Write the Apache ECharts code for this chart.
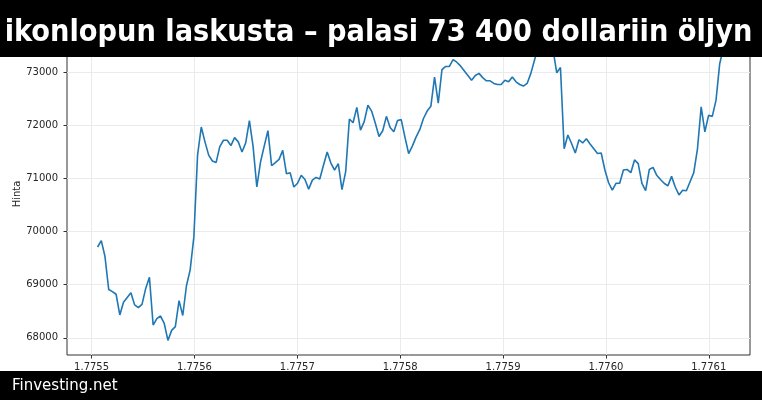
<!DOCTYPE html>
<html><head><meta charset="utf-8">
<script src="https://cdn.jsdelivr.net/npm/echarts@6/dist/echarts.min.js"></script>
<style>html,body{margin:0;padding:0;background:#fff}#c{width:762px;height:400px}</style>
</head><body><div id="c"></div>
<script>
const titleText = 'ikonlopun laskusta – palasi 73 400 dollariin öljyn';
const sourceText = 'Finvesting.net';
const yAxisName = 'Hinta';
const startTime = 1775505830; // unix seconds of first point
const stepSeconds = 3600;     // hourly
const prices = [
  69710, 69830, 69530, 68910, 68870, 68820, 68430, 68670, 68760, 68850,
  68620, 68570, 68630, 68930, 69140, 68240, 68360, 68410, 68270, 67950,
  68140, 68210, 68700, 68420, 68980, 69280, 69900,
  71440, 71970, 71690, 71440, 71330, 71300, 71600, 71720, 71720, 71620,
  71770, 71690, 71500, 71670, 72090, 71600, 70840, 71310, 71610, 71900,
  71240, 71300, 71360, 71530, 71090, 71110, 70840, 70910, 71060, 70980,
  70800, 70970, 71020,
  70990, 71250, 71500, 71290, 71160, 71280, 70790, 71130, 72120, 72050,
  72340, 71910, 72070, 72380, 72270, 72040, 71790, 71900, 72170, 71960,
  71880, 72090, 72110, 71780, 71470,
  71610, 71780, 71920, 72130, 72270, 72360, 72910, 72420, 73050, 73110,
  73110, 73240, 73190, 73120, 73030, 72940, 72850, 72940, 72980, 72900,
  72840, 72840, 72790, 72770, 72770, 72850, 72820, 72910, 72820, 72770,
  72740, 72790, 72980, 73230,
  73480, 73650, 73700, 73600, 73420, 72990, 73090,
  71560, 71820, 71660, 71480, 71730, 71670, 71750, 71650, 71560, 71470,
  71480, 71160, 70920, 70780, 70910, 70910, 71160, 71170, 71110, 71350,
  71280, 70910, 70770, 71170, 71210, 71060, 70980, 70910, 70860, 71040,
  70840, 70690, 70780, 70770, 70940, 71110, 71560, 72350, 71880, 72190,
  72170, 72470, 73160, 73450
];
const xTicks = [1775500000, 1775600000, 1775700000, 1775800000, 1775900000, 1776000000, 1776100000];
const yTicks = [68000, 69000, 70000, 71000, 72000, 73000];
const xMin = 1775476100, xMax = 1776140100;
const yMin = 67676, yMax = 73740;

const seriesData = prices.map((p, i) => [startTime + i * stepSeconds, p]);

const chart = echarts.init(document.getElementById('c'), null, {renderer: 'canvas'});
const axisColor = '#333';
const gridColor = '#ebebeb';
const labelColor = '#262626';
chart.setOption({
  animation: false,
  backgroundColor: '#fff',
  grid: {left: 67, right: 12, top: 33, bottom: 45, containLabel: false, outerBoundsMode: 'none',
         show: true, borderColor: axisColor, borderWidth: 1, backgroundColor: 'transparent'},
  xAxis: {
    type: 'value', min: xMin, max: xMax,
    axisLine: {show: false},
    axisTick: {show: true, inside: false, length: 3.5, lineStyle: {color: axisColor}, customValues: xTicks},
    axisLabel: {show: true, customValues: xTicks, margin: 7, color: labelColor, fontSize: 10,
                fontFamily: 'DejaVu Sans', formatter: v => (v / 1e9).toFixed(4)},
    splitLine: {show: true, lineStyle: {color: gridColor, width: 1}}
  },
  yAxis: {
    type: 'value', min: yMin, max: yMax,
    name: yAxisName, nameLocation: 'middle', nameGap: 45, nameRotate: 90, nameMoveOverlap: false,
    nameTextStyle: {color: labelColor, fontSize: 10, fontFamily: 'DejaVu Sans'},
    axisLine: {show: false},
    axisTick: {show: true, inside: false, length: 3.5, lineStyle: {color: axisColor}, customValues: yTicks},
    axisLabel: {show: true, customValues: yTicks, margin: 9, color: labelColor, fontSize: 10,
                fontFamily: 'DejaVu Sans', formatter: v => String(v)},
    splitLine: {show: true, lineStyle: {color: gridColor, width: 1}}
  },
  series: [{
    type: 'line', data: seriesData, showSymbol: false, symbol: 'none',
    lineStyle: {color: '#1f77b4', width: 1.6}, itemStyle: {color: '#1f77b4'}
  }],
  graphic: [
    {type: 'rect', left: 0, top: 0, z: 100, shape: {width: 762, height: 57}, style: {fill: '#000'}},
    {type: 'text', x: 378.5, y: 33, z: 101,
     style: {text: titleText, fill: '#fff', fontSize: 30.3, fontWeight: 'bold',
             fontFamily: '"DejaVu Sans Condensed", "DejaVu Sans"',
             align: 'center', verticalAlign: 'middle'}},
    {type: 'rect', left: 0, top: 371, z: 100, shape: {width: 762, height: 29}, style: {fill: '#000'}},
    {type: 'text', x: 12, y: 386, z: 101,
     style: {text: sourceText, fill: '#fff', fontSize: 15, fontFamily: 'DejaVu Sans',
             align: 'left', verticalAlign: 'middle'}}
  ]
});
</script></body></html>
